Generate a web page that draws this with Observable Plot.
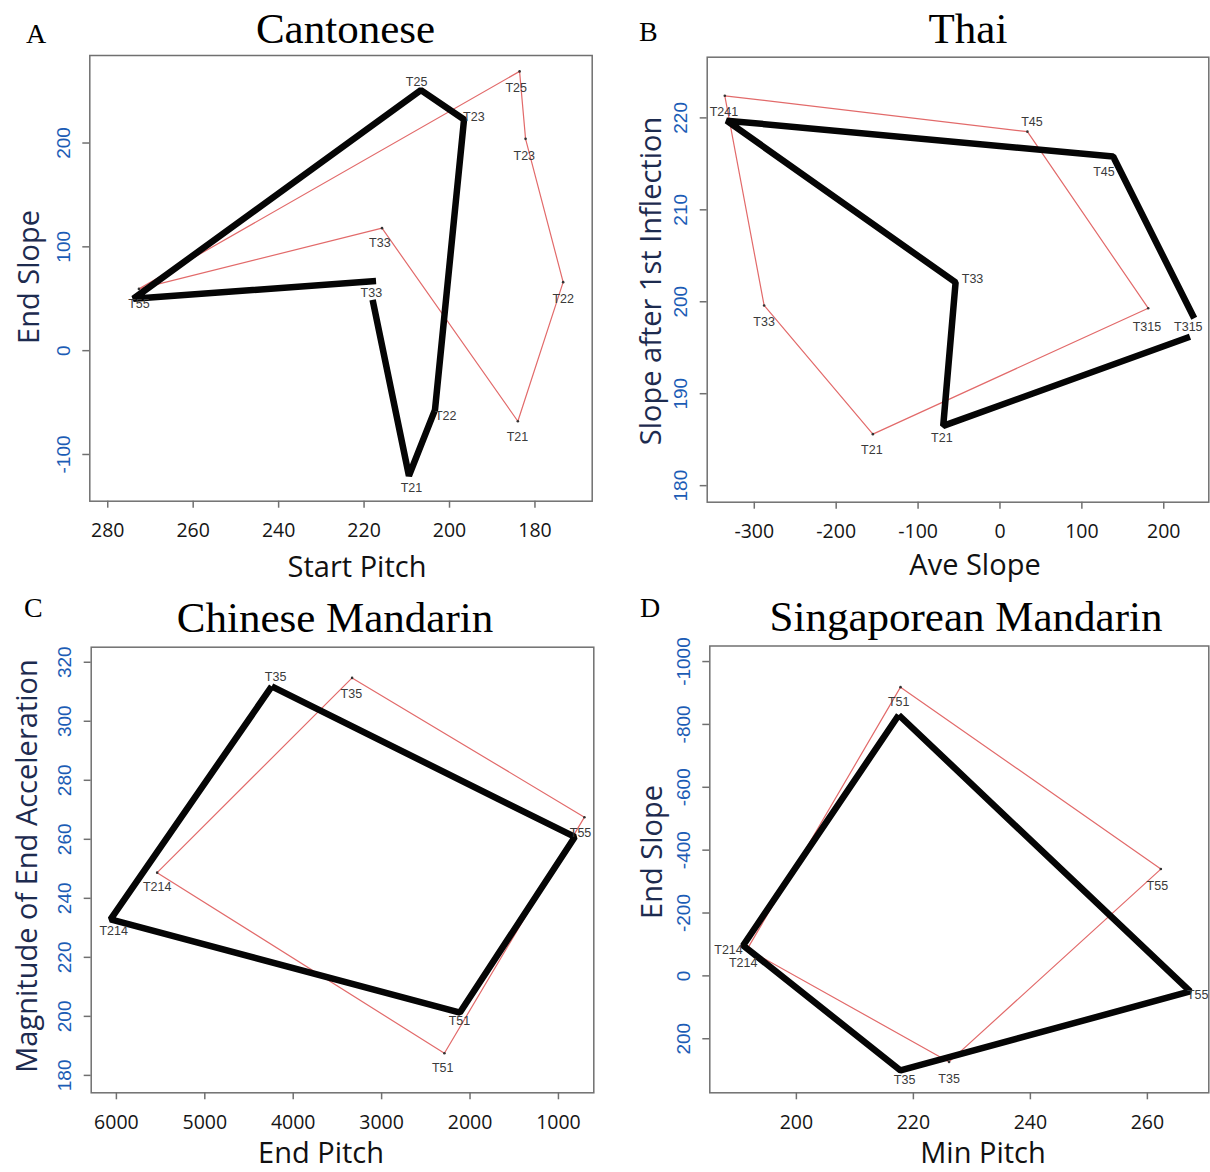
<!DOCTYPE html>
<html><head><meta charset="utf-8">
<script src="https://cdn.jsdelivr.net/npm/d3@7"></script>
<script src="https://cdn.jsdelivr.net/npm/@observablehq/plot@0.6"></script>
<style>
html,body{margin:0;padding:0;background:#fff;}
#root{position:relative;width:1210px;height:1172px;overflow:hidden;background:#fff;}
.panel{position:absolute;}
#overlay{position:absolute;left:0;top:0;}
</style></head><body><div id="root"></div>
<script>
// ---------- DATA ----------
// A: Cantonese (x = Start Pitch, y = End Slope)
const cantoneseBlack = [ // thick outline, broken at T33
  {tone:"T33", x:218.0, y:49},
  {tone:"T21", x:209.5, y:-120.5},
  {tone:"T22", x:203.4, y:-57},
  {tone:"T23", x:196.6, y:222.7},
  {tone:"T25", x:206.7, y:251},
  {tone:"T55", x:274.0, y:50},
  {tone:"T33", x:217.2, y:67}
];
const cantoneseRed = [
  {tone:"T55", x:272.7, y:59.5},
  {tone:"T25", x:183.6, y:269},
  {tone:"T23", x:182.2, y:204},
  {tone:"T22", x:173.4, y:66},
  {tone:"T21", x:184.0, y:-68},
  {tone:"T33", x:215.8, y:118}
];
const cantoneseLabels = [
  {tone:"T25", x:207.7, y:258.6}, {tone:"T23", x:194.3, y:225.5},
  {tone:"T22", x:200.9, y:-62.5}, {tone:"T21", x:208.9, y:-132},
  {tone:"T33", x:218.3, y:55.5},  {tone:"T55", x:272.7, y:45},
  {tone:"T25", x:184.4, y:253.2}, {tone:"T23", x:182.5, y:187.5},
  {tone:"T22", x:173.4, y:50},    {tone:"T21", x:184.1, y:-83.5},
  {tone:"T33", x:216.3, y:103.5}
];
const cantoneseXTicks = [280, 260, 240, 220, 200, 180];
const cantoneseYTicks = [200, 100, 0, -100];

// B: Thai (x = Ave Slope, y = Slope after 1st Inflection)
const thaiBlack = [ // thick outline, broken at T315
  {tone:"T315", x:232.0, y:196.2},
  {tone:"T21", x:-69.3, y:186.5},
  {tone:"T33", x:-54.2, y:202.1},
  {tone:"T241", x:-333.8, y:219.7},
  {tone:"T45", x:138.2, y:215.8},
  {tone:"T315", x:237.2, y:198.2}
];
const thaiRed = [
  {tone:"T241", x:-336, y:222.4},
  {tone:"T45", x:33.5, y:218.5},
  {tone:"T315", x:181, y:199.3},
  {tone:"T21", x:-155.2, y:185.6},
  {tone:"T33", x:-288, y:199.6}
];
const thaiLabels = [
  {tone:"T241", x:-337, y:220.6}, {tone:"T45", x:127, y:214.1},
  {tone:"T45", x:39, y:219.5},    {tone:"T33", x:-33.5, y:202.5},
  {tone:"T33", x:-288, y:197.8},  {tone:"T21", x:-71, y:185.2},
  {tone:"T21", x:-156.5, y:183.9},{tone:"T315", x:179.5, y:197.3},
  {tone:"T315", x:230, y:197.3}
];
const thaiXTicks = [-300, -200, -100, 0, 100, 200];
const thaiYTicks = [180, 190, 200, 210, 220];

// C: Chinese Mandarin (x = End Pitch, y = Magnitude of End Acceleration)
const mandarinBlack = [
  {tone:"T35", x:4243, y:311.8},
  {tone:"T55", x:815, y:260.8},
  {tone:"T51", x:2114, y:201.3},
  {tone:"T214", x:6066, y:232.9}
];
const mandarinRed = [
  {tone:"T35", x:3334, y:314.7},
  {tone:"T55", x:706, y:267.5},
  {tone:"T51", x:2290, y:187.5},
  {tone:"T214", x:5539, y:248.7}
];
const mandarinLabels = [
  {tone:"T35", x:4199, y:315.1}, {tone:"T35", x:3342, y:309.3},
  {tone:"T55", x:750, y:262},    {tone:"T51", x:2120, y:198.5},
  {tone:"T51", x:2309, y:182.4}, {tone:"T214", x:6031, y:228.8},
  {tone:"T214", x:5539, y:243.9}
];
const mandarinXTicks = [6000, 5000, 4000, 3000, 2000, 1000];
const mandarinYTicks = [180, 200, 220, 240, 260, 280, 300, 320];

// D: Singaporean Mandarin (x = Min Pitch, y = End Slope)
const singaporeBlack = [
  {tone:"T51", x:217.5, y:-830},
  {tone:"T55", x:267.3, y:49.6},
  {tone:"T35", x:217.8, y:300.9},
  {tone:"T214", x:190.9, y:-96.8}
];
const singaporeRed = [
  {tone:"T51", x:217.8, y:-918.6},
  {tone:"T55", x:262.3, y:-339.8},
  {tone:"T35", x:226.1, y:273.7},
  {tone:"T214", x:191.6, y:-85}
];
const singaporeLabels = [
  {tone:"T51", x:217.5, y:-871.4}, {tone:"T55", x:261.7, y:-286.1},
  {tone:"T55", x:268.6, y:60.8},   {tone:"T35", x:218.5, y:329.8},
  {tone:"T35", x:226.1, y:327.4},  {tone:"T214", x:188.4, y:-80.8},
  {tone:"T214", x:190.9, y:-41.9}
];
const singaporeXTicks = [200, 220, 240, 260];
const singaporeYTicks = [-1000, -800, -600, -400, -200, 0, 200];

// ---------- STYLE ----------
const GRAY = "#707070", RED = "#e26a6a", YTICK = "#1b5cb5", YTITLE = "#1d2b4f";
const root = document.getElementById("root");

function panel(o) {
  const blackPath = o.closeBlack ? [...o.black, o.black[0]] : o.black;
  const redPath = [...o.red, o.red[0]];
  const p = Plot.plot({
    width: o.width, height: o.height,
    marginLeft: o.ml, marginRight: o.mr, marginTop: o.mt, marginBottom: o.mb,
    x: {domain: o.xDomain}, y: {domain: o.yDomain},
    style: {background: "transparent", overflow: "visible"},
    marks: [
      Plot.axisX({ticks: o.xTicks, tickSize: 7, tickFormat: () => "", label: null, stroke: GRAY, strokeWidth: 1.5}),
      Plot.axisY({ticks: o.yTicks, tickSize: 7, tickFormat: () => "", label: null, stroke: GRAY, strokeWidth: 1.5}),
      Plot.text(o.xTicks, {x: d => d, text: d => String(d), frameAnchor: "bottom", dy: 22, lineAnchor: "top",
        fontSize: 19.5, fontFamily: "Open Sans", fill: "#151515"}),
      Plot.text(o.yTicks, {y: d => d, text: d => String(d), frameAnchor: "left", dx: -20, rotate: -90,
        lineAnchor: "bottom", textAnchor: "middle", fontSize: 19, fontFamily: "Liberation Sans", fill: YTICK}),
      Plot.line(redPath, {x: "x", y: "y", stroke: RED, strokeWidth: 1.2}),
      Plot.dot(o.red, {x: "x", y: "y", r: 1.3, fill: "#333", stroke: null}),
      Plot.line(blackPath, {x: "x", y: "y", stroke: "#050505", strokeWidth: 6.5, strokeLinecap: "butt", strokeLinejoin: "miter"}),
      Plot.text(o.labels, {x: "x", y: "y", text: "tone", fontSize: 12.5, fontFamily: "Liberation Sans", fill: "#3a3a3a"}),
      Plot.frame({stroke: GRAY, strokeWidth: 1.5})
    ]
  });
  p.classList.add("panel");
  p.style.left = o.left + "px";
  p.style.top = o.top + "px";
  root.appendChild(p);
}

panel({left: 0, top: 0, width: 605, height: 590, ml: 89.3, mr: 13.3, mt: 55, mb: 89.3,
  xDomain: [284.2, 166.6], yDomain: [-145, 284.3], xTicks: cantoneseXTicks, yTicks: cantoneseYTicks,
  black: cantoneseBlack, red: cantoneseRed, labels: cantoneseLabels, closeBlack: false});
panel({left: 605, top: 0, width: 605, height: 590, ml: 101.7, mr: 1.7, mt: 56.7, mb: 88.3,
  xDomain: [-357.5, 255], yDomain: [178.2, 226.6], xTicks: thaiXTicks, yTicks: thaiYTicks,
  black: thaiBlack, red: thaiRed, labels: thaiLabels, closeBlack: false});
panel({left: 0, top: 590, width: 605, height: 582, ml: 90.7, mr: 11.7, mt: 56.7, mb: 79.7,
  xDomain: [6285, 600], yDomain: [174.1, 325.1], xTicks: mandarinXTicks, yTicks: mandarinYTicks,
  black: mandarinBlack, red: mandarinRed, labels: mandarinLabels, closeBlack: true});
panel({left: 605, top: 590, width: 605, height: 582, ml: 104.3, mr: 1.7, mt: 55.5, mb: 79.7,
  xDomain: [185.2, 270.5], yDomain: [372, -1049.5], xTicks: singaporeXTicks, yTicks: singaporeYTicks,
  black: singaporeBlack, red: singaporeRed, labels: singaporeLabels, closeBlack: true});

// ---------- TEXT OVERLAY ----------
const svg = d3.select(root).append("svg").attr("id", "overlay").attr("width", 1210).attr("height", 1172);
const letters = [["A", 26, 43], ["B", 639, 41], ["C", 24, 617], ["D", 640, 617]];
letters.forEach(([t, x, y]) => svg.append("text").attr("x", x).attr("y", y).text(t)
  .attr("font-family", "Liberation Serif").attr("font-size", 28).attr("fill", "#000"));
const titles = [["Cantonese", 345.5, 43], ["Thai", 968, 43], ["Chinese Mandarin", 335, 632], ["Singaporean Mandarin", 966, 631]];
titles.forEach(([t, x, y]) => svg.append("text").attr("x", x).attr("y", y).text(t).attr("text-anchor", "middle")
  .attr("font-family", "Liberation Serif").attr("font-size", 43).attr("fill", "#000"));
const xTitles = [["Start Pitch", 357, 577], ["Ave Slope", 975, 575], ["End Pitch", 321, 1163], ["Min Pitch", 983, 1163]];
xTitles.forEach(([t, x, y]) => svg.append("text").attr("x", x).attr("y", y).text(t).attr("text-anchor", "middle")
  .attr("font-family", "Open Sans").attr("font-size", 29).attr("fill", "#111"));
const yTitles = [["End Slope", 27, 277], ["Slope after 1st Inflection", 649, 281], ["Magnitude of End Acceleration", 25, 866], ["End Slope", 650, 852]];
yTitles.forEach(([t, x, y]) => svg.append("text").attr("transform", `translate(${x},${y}) rotate(-90)`).text(t)
  .attr("text-anchor", "middle").attr("dominant-baseline", "central")
  .attr("font-family", "Open Sans").attr("font-size", 29).attr("fill", YTITLE));
</script></body></html>
